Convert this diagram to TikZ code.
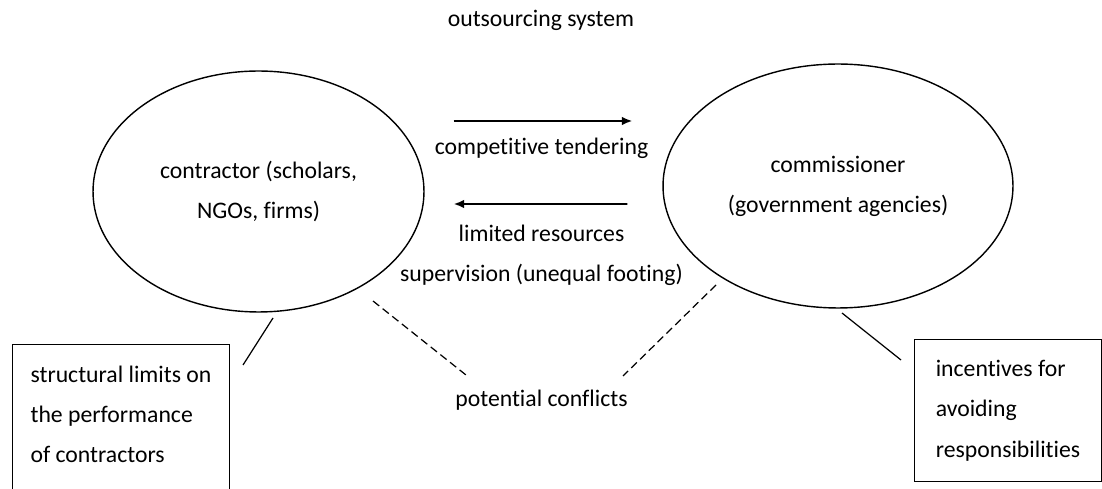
\documentclass[tikz,border=0pt]{standalone}
\usepackage{fontspec}
\setmainfont{Carlito}[Ligatures=NoCommon]
\usetikzlibrary{shapes.geometric,arrows.meta}

\begin{document}
\begin{tikzpicture}
    [x=0.02cm, y=-0.02cm, font=\fontsize{13.5}{22.8}\selectfont,
     party/.style={draw, line width=0.8pt, ellipse, align=center},
     note/.style={draw, line width=0.6pt, anchor=north west, align=left, inner ysep=12pt},
     flow/.style={line width=1.1pt, -{Latex[length=6pt,width=5pt]}},
     callout/.style={line width=0.7pt},
     conflict/.style={line width=0.7pt, dash pattern=on 4.5pt off 2.5pt}]
    \useasboundingbox (0,0) rectangle (1102,489);
    \clip (0,0) rectangle (1102,489);
    \node (title) at (541,20) {outsourcing system};
    \node[party, minimum width=6.62cm, minimum height=4.82cm] (contractor) at (258.5,191.5)
        {contractor (scholars,\\NGOs, firms)};
    \node[party, minimum width=7cm, minimum height=4.88cm] (commissioner) at (838,186)
        {commissioner\\(government agencies)};
    \node (tender) at (541.5,148) {competitive tendering};
    \node (resources) at (541.5,233) {limited resources};
    \node (supervision) at (541.5,275) {supervision (unequal footing)};
    \node (conflicts) at (541.5,400) {potential conflicts};
    \node[note, minimum width=4.34cm] (limits) at (12,344)
        {structural limits on\\the performance\\of contractors\\\mbox{}};
    \node[note, minimum width=3.74cm, inner xsep=8pt] (incentives) at (914,339)
        {incentives for\\avoiding\\responsibilities};
    \draw[flow] ([shift={(29,-70.5)}]contractor.east) -- ([shift={(-30,-65)}]commissioner.west);
    \draw[flow] ([shift={(-35,18)}]commissioner.west) -- ([shift={(29,12.5)}]contractor.east);
    \draw[conflict] ([shift={(114.5,109.5)}]contractor.center) -- ([shift={(-75.5,-25)}]conflicts.center);
    \draw[conflict] ([shift={(-122,99)}]commissioner.center) -- ([shift={(81.5,-24)}]conflicts.center);
    \draw[callout] ([shift={(14.5,126.5)}]contractor.center) -- ([shift={(13,21)}]limits.north east);
    \draw[callout] ([shift={(4,127)}]commissioner.center) -- ([shift={(-13,21)}]incentives.north west);
\end{tikzpicture}
\end{document}
